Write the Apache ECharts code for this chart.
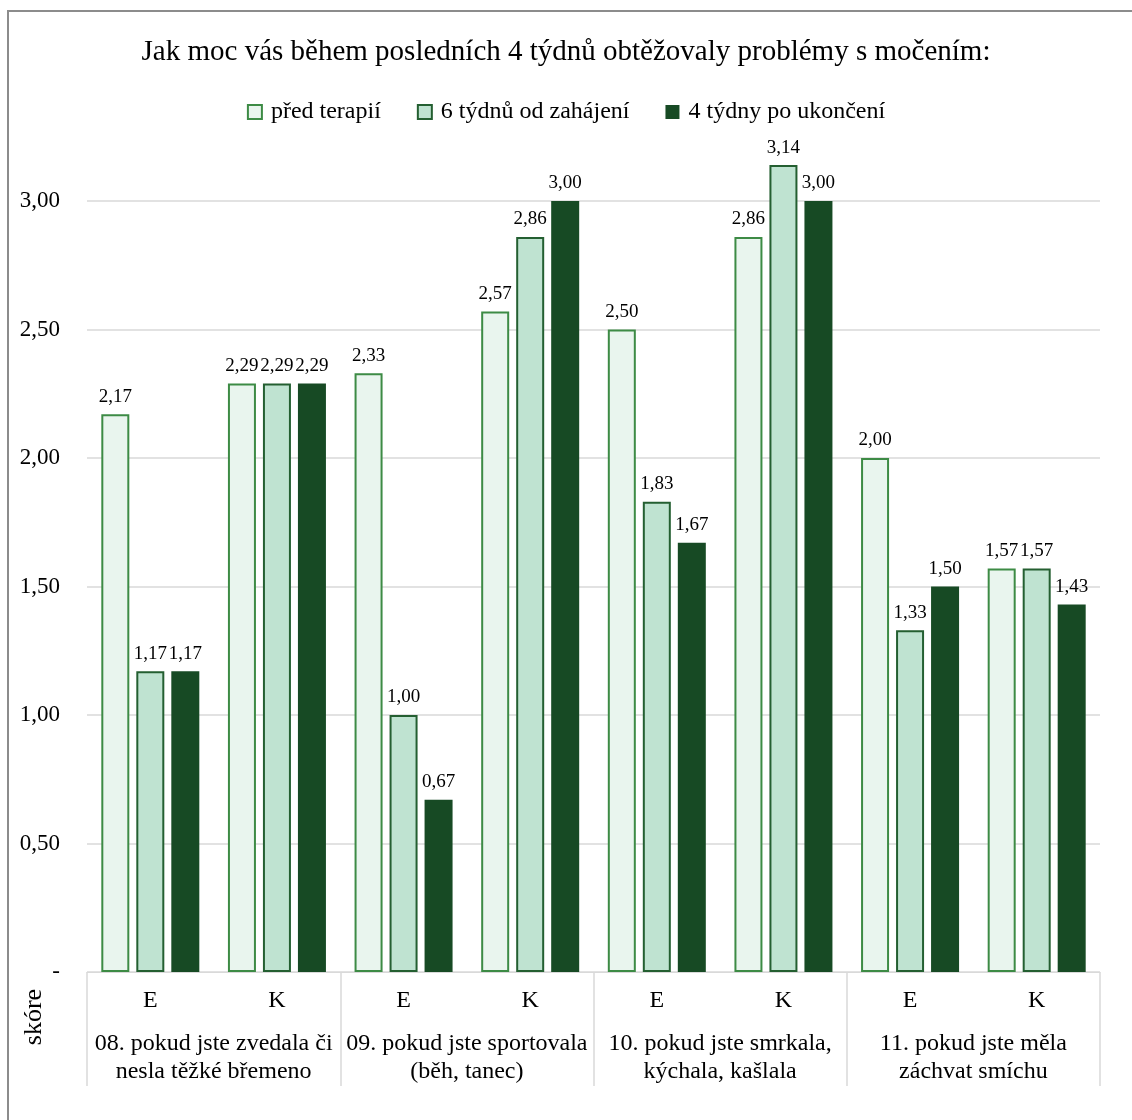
<!DOCTYPE html>
<html>
<head>
<meta charset="utf-8">
<script src="https://cdn.jsdelivr.net/npm/echarts@6/dist/echarts.min.js"></script>
<style>
  html, body { margin: 0; padding: 0; background: #fff; }
  #chart { width: 1132px; height: 1120px; }
</style>
</head>
<body>
<div id="chart"></div>
<script>
// Questionnaire items (outer level) and respondent groups (inner level)
const groups = [
  '08. pokud jste zvedala či\nnesla těžké břemeno',
  '09. pokud jste sportovala\n(běh, tanec)',
  '10. pokud jste smrkala,\nkýchala, kašlala',
  '11. pokud jste měla\nzáchvat smíchu'
];
const categories = ['E', 'K', 'E', 'K', 'E', 'K', 'E', 'K'];

const seriesNames = ['před terapií', '6 týdnů od zahájení', '4 týdny po ukončení'];
const beforeTherapy  = [2.17, 2.29, 2.33, 2.57, 2.50, 2.86, 2.00, 1.57];
const sixWeeks       = [1.17, 2.29, 1.00, 2.86, 1.83, 3.14, 1.33, 1.57];
const fourWeeksAfter = [1.17, 2.29, 0.67, 3.00, 1.67, 3.00, 1.50, 1.43];

const yTicks = [0, 0.5, 1, 1.5, 2, 2.5, 3];

const FONT = "'Liberation Serif', 'Times New Roman', serif";
const fmt = v => v === 0 ? '-' : v.toFixed(2).replace('.', ',');

const styles = [
  { color: '#e9f5ee', borderColor: '#3d8b45', borderWidth: 2 },
  { color: '#bfe3d1', borderColor: '#245f31', borderWidth: 2 },
  { color: '#174a24', borderColor: '#174a24', borderWidth: 0 }
];

function barSeries(name, data, style) {
  return {
    name: name,
    type: 'bar',
    data: data,
    barWidth: 28,
    barGap: '25%',
    clip: false,
    itemStyle: style,
    label: {
      show: true,
      position: 'top',
      distance: 8,
      fontFamily: FONT,
      fontSize: 19,
      color: '#000',
      formatter: p => fmt(p.value)
    }
  };
}

const chart = echarts.init(document.getElementById('chart'), null, { renderer: 'canvas' });
chart.setOption({
  backgroundColor: '#fff',
  animation: false,
  title: {
    text: 'Jak moc vás během posledních 4 týdnů obtěžovaly problémy s močením:',
    left: 'center',
    top: 33,
    textStyle: { fontFamily: FONT, fontSize: 29, fontWeight: 'normal', color: '#000' }
  },
  legend: {
    top: 95,
    left: 'center',
    itemWidth: 14,
    itemHeight: 14,
    itemGap: 36,
    icon: 'rect',
    textStyle: { fontFamily: FONT, fontSize: 24, color: '#000', padding: [0, 0, 0, 4] },
    data: seriesNames
  },
  grid: { left: 87, right: 32, top: 201, bottom: 148 },
  xAxis: [
    {
      type: 'category',
      data: categories,
      axisLine: { show: true, lineStyle: { color: '#d9d9d9', width: 1 } },
      axisTick: { show: false },
      axisLabel: { fontFamily: FONT, fontSize: 24, color: '#000', margin: 17, interval: 0 }
    },
    {
      type: 'category',
      data: groups,
      position: 'bottom',
      axisLine: { show: false },
      axisTick: { show: true, length: 114, interval: 0, lineStyle: { color: '#d9d9d9', width: 1.5 } },
      axisLabel: { fontFamily: FONT, fontSize: 24, color: '#000', margin: 58, lineHeight: 28, interval: 0 }
    }
  ],
  yAxis: {
    type: 'value',
    min: yTicks[0],
    max: yTicks[yTicks.length - 1],
    interval: 0.5,
    axisLine: { show: false },
    axisTick: { show: false },
    splitLine: { lineStyle: { color: '#d9d9d9', width: 1.5 } },
    axisLabel: { fontFamily: FONT, fontSize: 23, color: '#000', margin: 27, formatter: fmt }
  },
  graphic: [
    {
      type: 'rect',
      shape: { x: 8, y: 11, width: 1140, height: 1130 },
      style: { fill: 'none', stroke: '#8c8c8c', lineWidth: 2 },
      silent: true
    },
    {
      type: 'text',
      x: 34,
      y: 1017,
      rotation: Math.PI / 2,
      style: {
        text: 'skóre',
        fontFamily: FONT,
        fontSize: 26,
        fill: '#000',
        align: 'center',
        verticalAlign: 'middle'
      }
    }
  ],
  series: [
    barSeries(seriesNames[0], beforeTherapy, styles[0]),
    barSeries(seriesNames[1], sixWeeks, styles[1]),
    barSeries(seriesNames[2], fourWeeksAfter, styles[2])
  ]
});
</script>
</body>
</html>
